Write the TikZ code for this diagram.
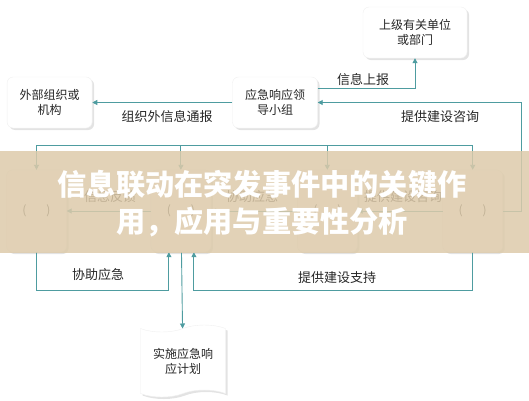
\documentclass[tikz,border=0pt]{standalone}
\usepackage{fontspec}
\setmainfont{Noto Sans CJK SC}
\usepackage{xcolor}
\usepackage{tikz}
\usetikzlibrary{arrows.meta,positioning,shadows,shapes.symbols}
\definecolor{linkteal}{RGB}{78,156,160}
\definecolor{bandtan}{RGB}{221,202,170}

\begin{document}
\begin{tikzpicture}
  [
  x=1pt,y=-1pt,
  unit/.style={rectangle,rounded corners=6pt,draw=black!6,fill=white,align=center,inner sep=0pt,
    minimum width=85pt,minimum height=51pt,font=\fontsize{12}{15}\selectfont,text=black!85,
    drop shadow={shadow xshift=2pt,shadow yshift=-2pt,opacity=0.22}},
  slot/.style={unit,minimum width=60pt,minimum height=82pt},
  plan/.style={tape,draw=black!6,fill=white,align=center,inner sep=0pt,minimum width=85pt,
    minimum height=72pt,tape bend height=7pt,font=\fontsize{12}{15}\selectfont,text=black!85,
    drop shadow={shadow xshift=2pt,shadow yshift=-2pt,opacity=0.22}},
  tag/.style={font=\fontsize{13}{15}\selectfont,text=black!85,inner sep=1pt},
  link/.style={draw=linkteal,line width=0.9pt},
  post/.style={link,->,>={Triangle[length=5pt,width=5pt]}}
  ]
  \useasboundingbox (0,0) rectangle (529,400);
  \node[unit,minimum width=104pt] (upper dept) at (415,32.5) {上级有关单位\\或部门};
  \node[unit] (lead group) at (275,102.5) {应急响应领\\导小组};
  \node[unit] (outside org) [left = 140pt of lead group] {外部组织或\\机构};
  \node[slot] (slot 1) at (36.5,211) {(\hspace{20pt})};
  \node[slot] (slot 2) [right = 84pt of slot 1] {(\hspace{20pt})};
  \node[slot] (slot 3) [right = 86pt of slot 2] {(\hspace{20pt})};
  \node[slot] (slot 4) [right = 85pt of slot 3] {(\hspace{20pt})};
  \node[plan] (response plan) at (183,361) {实施应急响\\应计划};
  % upper row
  \draw[post] ([yshift=14.5pt]lead group.east) -| (upper dept.south);
  \draw[post] (lead group) -- (outside org);
  \draw[post] (slot 4.east) -- ++(19,0) |- (lead group.east);
  \node[tag] (tag report) at (363,80) {信息上报};
  \node[tag] (tag notice) at (167,117) {组织外信息通报};
  \node[tag] (tag advice) at (440,117) {提供建设咨询};
  % bus down to the slots
  \coordinate (bus) at (0,145);
  \draw[link] (slot 1 |- bus) -- (slot 4 |- bus);
  \foreach \s in {1,...,4}
    \draw[post] (slot \s |- bus) -- (slot \s);
  % between the slots
  \draw[post] (slot 2) -- (slot 1);
  \draw[post] (slot 3) -- (slot 2);
  \draw[post] (slot 4) -- (slot 3);
  \node[tag] (tag feedback) at (110,197) {信息反馈};
  \node[tag] (tag assist mid) at (252,197) {协助应急};
  \node[tag] (tag advice mid) at (403,197) {提供建设咨询};
  % lower row
  \draw[post] (slot 1.south) -- ++(0,38) -| ([xshift=-12pt]slot 2.south);
  \draw[post] (slot 4.south) -- ++(0,38) -| ([xshift=13pt]slot 2.south);
  \draw[post] (slot 2) -- (response plan);
  \node[tag] (tag assist) at (98,275) {协助应急};
  \node[tag] (tag support) at (337,278) {提供建设支持};
  % title band
  \fill[bandtan,opacity=0.85] (0,151) rectangle (529,253);
  \node[font=\fontsize{29.2}{37}\selectfont\bfseries,text=white,align=center] (headline)
    at (262,203.5) {信息联动在突发事件中的关键作\\用，应用与重要性分析};
\end{tikzpicture}
\end{document}
